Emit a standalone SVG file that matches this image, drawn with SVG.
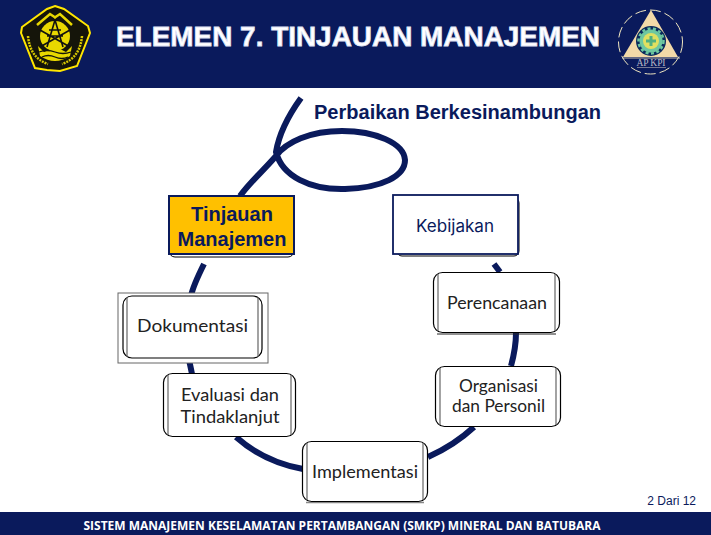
<svg xmlns="http://www.w3.org/2000/svg" width="711" height="535" viewBox="0 0 711 535">
<style>
.bar{fill:#0a1a5c}
.box{fill:#fff;stroke:#000;stroke-width:1.2}
.inner{fill:none;stroke:#666;stroke-width:1.2}
.lbl{font-family:Lato,"Open Sans",sans-serif;font-size:16.5px;fill:#222;text-anchor:middle}
.big{font-size:17.5px}
.conn{fill:none;stroke:#0a1a5c;stroke-width:6}
.sh{fill:none;stroke:#222;stroke-width:1}
</style>
<rect width="711" height="535" fill="#fff"/>
<rect class="bar" width="711" height="88"/>
<rect class="bar" y="512" width="711" height="23"/>

<g id="logo-left">
<path d="M55 6 L64 9 L88 26 L90 33 L77 66 L60 71 L47 70 L35 68 L21 33 L22 27 L47 9 Z" fill="#15150a" stroke="#ffe600" stroke-width="2"/>
<circle cx="55" cy="36" r="15" fill="#e8d800"/>
<path d="M37 25 L50 14 L56 18 M72 25 L60 14 L54 18" stroke="#e8d800" stroke-width="2.500" fill="none"/>
<path d="M40 30 L70 47 M70 30 L40 47 M55 20 L47 47 M55 20 L63 47 M49 30 H61 M47 36 H63" stroke="#111" stroke-width="1.600" fill="none"/>
<path d="M38 46 L44 52 L56 47 L66 52 L72 46 L70 56 Q55 66 40 56 Z" fill="#e8d800"/>
<path d="M39 52 Q47 49 55 52 T71 52 M42 57 Q48 54 55 57 T68 57" stroke="#15150a" stroke-width="1.300" fill="none"/>
<path d="M28 36 Q30 58 48 64 M82 36 Q80 58 62 64" stroke="#d8c800" stroke-width="2.500" fill="none" stroke-dasharray="2 1"/>
</g>

<g id="logo-right">
<circle cx="650.500" cy="42" r="32" fill="none" stroke="#f0e6c0" stroke-width="1" stroke-dasharray="11 4"/>
<path d="M651 10 L678 57 L623 57 Z" fill="#f2d9a8"/>
<circle cx="651" cy="41" r="15" fill="#0a2a5c"/>
<circle cx="651" cy="41" r="11.500" fill="#6ec8a0"/>
<circle cx="651" cy="41" r="12.500" fill="none" stroke="#6ec8a0" stroke-width="2.500" stroke-dasharray="3 2.500"/>
<circle cx="651" cy="41" r="8" fill="#e0e060"/>
<path d="M651 36 V46 M646 41 H656" stroke="#50b080" stroke-width="3"/>
<path d="M622 58 H680" stroke="#f0e6c0" stroke-width="0.800"/>
<text x="651" y="66" font-family="'Liberation Serif',serif" font-size="9.500px" fill="#b8b8c4" text-anchor="middle" textLength="29">AP KPI</text>
<path d="M637 67.500 H666" stroke="#9090a0" stroke-width="0.800"/>
</g>

<text x="358" y="46" font-family="'Liberation Sans',Arial,sans-serif" font-size="27px" font-weight="700" fill="#fff" stroke="#dfe4f5" stroke-width="0.800" text-anchor="middle" textLength="484" lengthAdjust="spacingAndGlyphs">ELEMEN 7. TINJAUAN MANAJEMEN</text>
<text x="314" y="119" font-family="'Liberation Sans',Arial,sans-serif" font-size="20px" font-weight="700" fill="#0a1a5c" textLength="287" lengthAdjust="spacingAndGlyphs">Perbaikan Berkesinambungan</text>
<text x="696" y="505" font-family="'Liberation Sans',Arial,sans-serif" font-size="12px" fill="#0a1a5c" text-anchor="end">2 Dari 12</text>
<text x="342" y="530" font-family="'Open Sans','Noto Sans',sans-serif" font-size="12px" font-weight="700" fill="#fff" text-anchor="middle" textLength="517" lengthAdjust="spacingAndGlyphs">SISTEM MANAJEMEN KESELAMATAN PERTAMBANGAN (SMKP) MINERAL DAN BATUBARA</text>

<g id="connectors">
<path class="conn" d="M301 98 C288 116 279 134 276 152 C282 176 310 190 345 189 C382 188 405 176 405 160 C404 143 375 131 342 131 C310 131 286 142 276 156 C264 170 250 182 240 196"/>
<path class="conn" d="M204 264 C198 276 193 286 191 296"/>
<path class="conn" d="M189 360 C190 364 191 369 192 374"/>
<path class="conn" d="M236 437 C254 453 276 464 303 469"/>
<path class="conn" d="M428 457 C446 449 461 439 474 427"/>
<path class="conn" d="M511 366 C514 355 516 344 516 333"/>
<path class="conn" d="M494 264 L500 272"/>
</g>

<g id="node-tinjauan">
<rect x="169" y="198" width="125" height="59" rx="6" fill="#fff" stroke="#000"/>
<rect x="169" y="196" width="125" height="58" fill="#ffc000" stroke="#0a1a5c" stroke-width="2"/>
<text x="232" y="221" font-family="'Liberation Sans',Arial,sans-serif" font-size="20px" font-weight="700" fill="#0a1a5c" text-anchor="middle">Tinjauan</text>
<text x="232" y="246" font-family="'Liberation Sans',Arial,sans-serif" font-size="20px" font-weight="700" fill="#0a1a5c" text-anchor="middle">Manajemen</text>
</g>

<g id="node-dokumentasi">
<rect x="118" y="293" width="150" height="70" fill="#fff" stroke="#666" stroke-width="1"/>
<rect class="box" x="123" y="296" width="139" height="62" rx="9"/>
<path class="inner" d="M127 297 V357 M258 297 V357"/>
<text class="lbl big" x="192.500" y="332" textLength="111" lengthAdjust="spacingAndGlyphs">Dokumentasi</text>
</g>

<g id="node-kebijakan">
<rect x="397" y="198" width="122" height="58" rx="5" fill="#fff" stroke="#000"/>
<rect x="393" y="195" width="125" height="59" fill="#fff" stroke="#0a1a5c" stroke-width="1.800"/>
<text x="455" y="232" font-family="Inter,'Liberation Sans',sans-serif" font-size="17px" fill="#0a1a5c" text-anchor="middle" textLength="78" lengthAdjust="spacingAndGlyphs">Kebijakan</text>
</g>

<g id="node-perencanaan">
<path class="sh" d="M437 334 H556"/>
<rect class="box" x="433.500" y="272.500" width="126" height="60" rx="9"/>
<path class="inner" d="M438 274 V331 M555 274 V331"/>
<text class="lbl big" x="497" y="309" textLength="100" lengthAdjust="spacingAndGlyphs">Perencanaan</text>
</g>

<g id="node-organisasi">
<rect class="box" x="435.500" y="366.500" width="125" height="60" rx="9"/>
<path class="inner" d="M440 368 V425 M556 368 V425"/>
<text class="lbl" x="498.500" y="392" textLength="79" lengthAdjust="spacingAndGlyphs">Organisasi</text>
<text class="lbl" x="498.500" y="412" textLength="93" lengthAdjust="spacingAndGlyphs">dan Personil</text>
</g>

<g id="node-evaluasi">
<rect class="box" x="163.500" y="373.500" width="132" height="63" rx="9"/>
<path class="inner" d="M168 375 V435 M291 375 V435"/>
<text class="lbl big" x="230" y="401" textLength="98" lengthAdjust="spacingAndGlyphs">Evaluasi dan</text>
<text class="lbl big" x="230" y="423" textLength="99" lengthAdjust="spacingAndGlyphs">Tindaklanjut</text>
</g>

<g id="node-implementasi">
<path d="M306 502.500 H424" fill="none" stroke="#888" stroke-width="1.500"/>
<rect class="box" x="302.500" y="441.500" width="125" height="60" rx="9"/>
<path class="inner" d="M307 443 V500 M423 443 V500"/>
<text class="lbl big" x="365" y="478" textLength="106" lengthAdjust="spacingAndGlyphs">Implementasi</text>
</g>
</svg>
